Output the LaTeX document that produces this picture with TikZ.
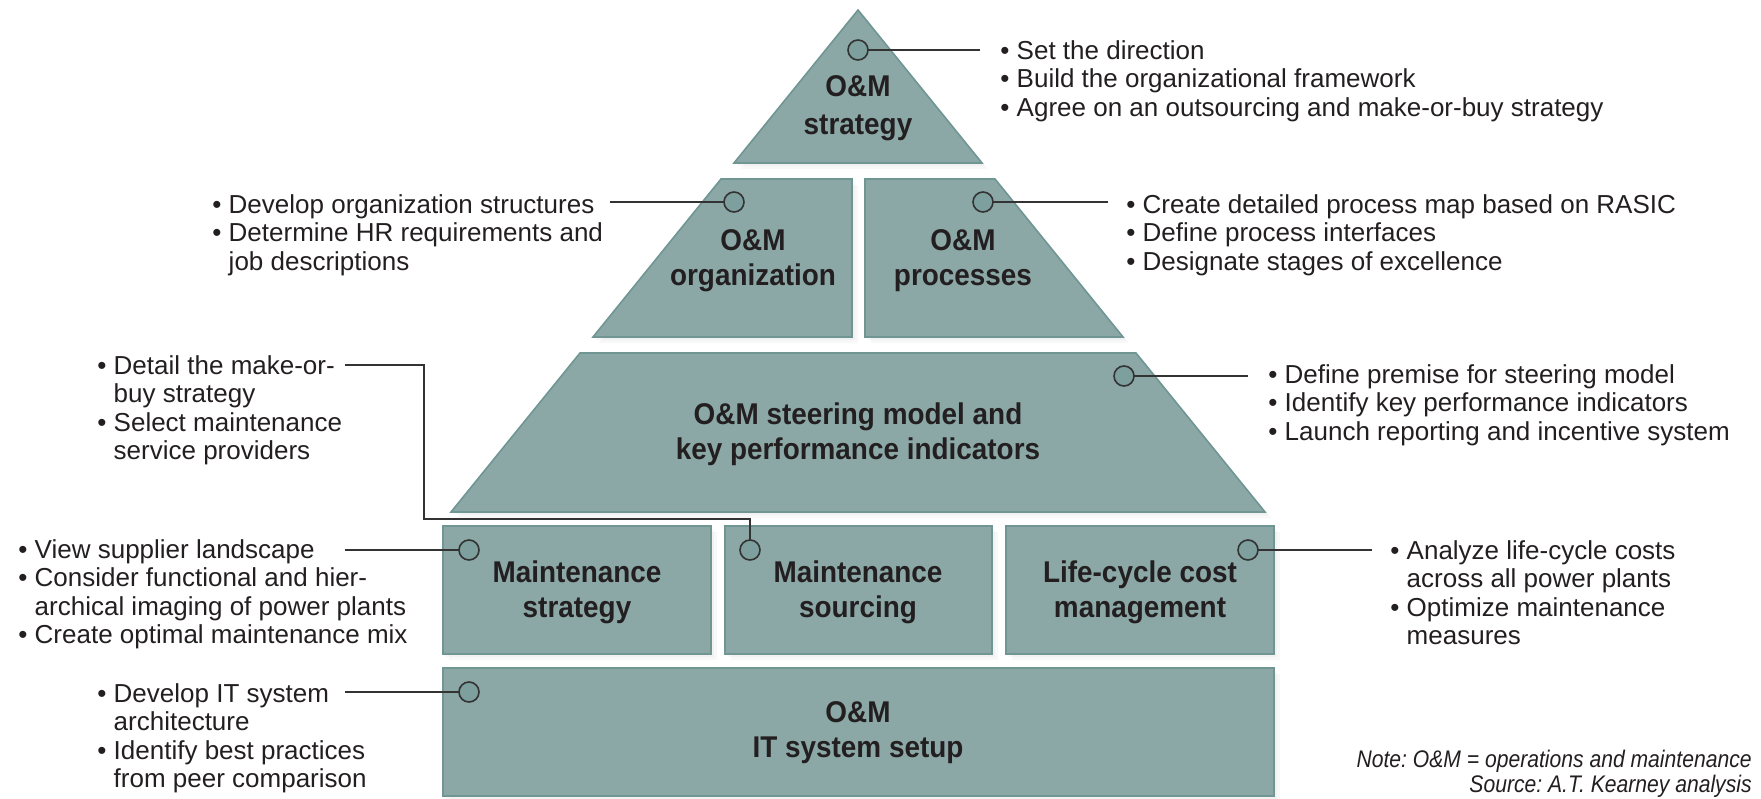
\documentclass[tikz,border=0pt]{standalone}
\usepackage{fontspec}
\setmainfont{Liberation Sans}
\newfontfamily\labelfont[FakeStretch=0.93]{Liberation Sans}
\newfontfamily\notefont[FakeStretch=0.88]{Liberation Sans}
\usetikzlibrary{shadows}
\definecolor{pyrFill}{HTML}{8BA8A7}
\definecolor{pyrEdge}{HTML}{6F9693}
\definecolor{dotFill}{HTML}{7D9F9D}
\definecolor{txtGray}{HTML}{231F20}
\tikzset{
  block/.style={fill=pyrFill, draw=pyrEdge, line width=0.8pt,
    drop shadow={opacity=0.06, shadow xshift=1.5pt, shadow yshift=-1.5pt},
    drop shadow={opacity=0.06, shadow xshift=3pt, shadow yshift=-3pt}},
  blocklabel/.style={font=\labelfont\bfseries\fontsize{15}{17.5}\selectfont, text=txtGray, align=center},
  dot/.style={circle, draw=black!80, fill=dotFill, line width=0.8pt, minimum size=10pt, inner sep=0pt},
  bullets/.style={font=\fontsize{13}{14.25}\selectfont, text=txtGray, align=left, inner sep=0pt, anchor=north west},
  connector/.style={draw=black!80, line width=0.75pt},
}
\newcommand{\bul}{\textbullet\ }
\newcommand{\cont}{\phantom{\textbullet\ }}
\frenchspacing

\begin{document}
\begin{tikzpicture}[x=0.5pt, y=-0.5pt]
\useasboundingbox (0,0) rectangle (1761,798);

% pyramid blocks
\path[block] (858,10) -- (982,163) -- (734,163) -- cycle;
\path[block] (721,179) -- (852,179) -- (852,337) -- (593,337) -- cycle;
\path[block] (865,179) -- (995,179) -- (1123,337) -- (865,337) -- cycle;
\path[block] (580,353) -- (1136,353) -- (1265,512) -- (451,512) -- cycle;
\path[block] (443,526) rectangle (711,654);
\path[block] (725,526) rectangle (992,654);
\path[block] (1006,526) rectangle (1274,654);
\path[block] (443,668) rectangle (1274,796);

% block labels
\node[blocklabel, font=\labelfont\bfseries\fontsize{15}{19}\selectfont] (l-top) at (858,108) {O\&M\\strategy};
\node[blocklabel] (l-org) at (753,261) {O\&M\\organization};
\node[blocklabel] (l-proc) at (963,261) {O\&M\\processes};
\node[blocklabel] (l-steer) at (858,434) {O\&M steering model and\\key performance indicators};
\node[blocklabel] (l-mstrat) at (577,592) {Maintenance\\strategy};
\node[blocklabel] (l-msrc) at (858,592) {Maintenance\\sourcing};
\node[blocklabel] (l-lcc) at (1140,592) {Life-cycle cost\\management};
\node[blocklabel] (l-it) at (858,733) {O\&M\\IT system setup};

% bullet texts
\node[bullets] (t-top) at (1000,40) {\bul Set the direction\\\bul Build the organizational framework\\\bul Agree on an outsourcing and make-or-buy strategy};
\node[bullets] (t-org) at (212,194) {\bul Develop organization structures\\\bul Determine HR requirements and\\\cont job descriptions};
\node[bullets] (t-proc) at (1126,194) {\bul Create detailed process map based on RASIC\\\bul Define process interfaces\\\bul Designate stages of excellence};
\node[bullets] (t-msrc) at (97,355) {\bul Detail the make-or-\\\cont buy strategy\\\bul Select maintenance\\\cont service providers};
\node[bullets] (t-steer) at (1268,364) {\bul Define premise for steering model\\\bul Identify key performance indicators\\\bul Launch reporting and incentive system};
\node[bullets] (t-mstrat) at (18,539) {\bul View supplier landscape\\\bul Consider functional and hier-\\\cont archical imaging of power plants\\\bul Create optimal maintenance mix};
\node[bullets] (t-lcc) at (1390,540) {\bul Analyze life-cycle costs\\\cont across all power plants\\\bul Optimize maintenance\\\cont measures};
\node[bullets] (t-it) at (97,683) {\bul Develop IT system\\\cont architecture\\\bul Identify best practices\\\cont from peer comparison};

% connector ends
\coordinate (e-top) at (980,50);
\coordinate (e-org) at (610,202);
\coordinate (e-proc) at (1108,202);
\coordinate (e-steer) at (1248,376);
\coordinate (e-mstrat) at (345,550);
\coordinate (e-msrc) at (345,365);
\coordinate (b-msrc) at (424,519);
\coordinate (e-lcc) at (1372,550);
\coordinate (e-it) at (345,692);

% connectors
\draw[connector] (e-top) -- (858,50);
\draw[connector] (e-org) -- (734,202);
\draw[connector] (e-proc) -- (983,202);
\draw[connector] (e-steer) -- (1124,376);
\draw[connector] (e-mstrat) -- (469,550);
\draw[connector] (e-msrc) -| (b-msrc) -| (750,550);
\draw[connector] (e-lcc) -- (1248,550);
\draw[connector] (e-it) -- (469,692);

% dots
\node[dot] (c-top) at (858,50) {};
\node[dot] (c-org) at (734,202) {};
\node[dot] (c-proc) at (983,202) {};
\node[dot] (c-steer) at (1124,376) {};
\node[dot] (c-mstrat) at (469,550) {};
\node[dot] (c-msrc) at (750,550) {};
\node[dot] (c-lcc) at (1248,550) {};
\node[dot] (c-it) at (469,692) {};

% note
\node[font=\notefont\itshape\fontsize{12}{12.5}\selectfont, text=txtGray, align=right, anchor=north east, inner sep=0pt] (note) at (1752,750) {Note: O\&M = operations and maintenance\\Source: A.T. Kearney analysis};
\end{tikzpicture}
\end{document}
